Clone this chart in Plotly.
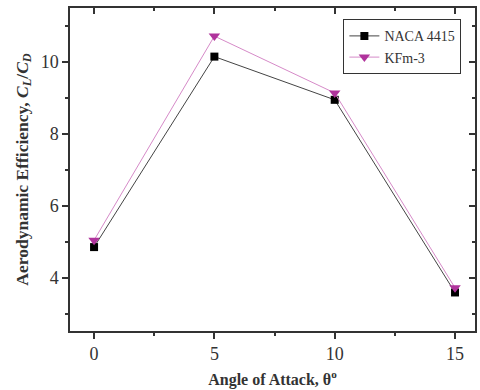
import plotly.graph_objects as go

angles = [0, 5, 10, 15]
naca_4415 = [4.86, 10.15, 8.95, 3.60]
kfm_3 = [5.05, 10.72, 9.14, 3.73]
x_ticks = [0, 5, 10, 15]
y_ticks = [4, 6, 8, 10]

FONT = "Liberation Serif"

fig = go.Figure()
fig.add_trace(go.Scatter(
    x=angles, y=naca_4415, name="NACA 4415", mode="lines+markers",
    line=dict(color="#444444", width=1),
    marker=dict(symbol="square", size=8, color="#000000"),
))
fig.add_trace(go.Scatter(
    x=angles, y=kfm_3, name="KFm-3", mode="lines+markers",
    line=dict(color="#d68ac8", width=1),
    marker=dict(symbol="triangle-down", size=10, color="#b0339c"),
))
# invisible trace for mirrored inside-tick axes
fig.add_trace(go.Scatter(x=[angles[0]], y=[naca_4415[0]], xaxis="x2", yaxis="y2",
                         mode="markers", marker=dict(opacity=0), showlegend=False,
                         hoverinfo="skip"))

xr = [-1.0, 15.83]
yr = [2.53, 11.5]
common = dict(showgrid=False, zeroline=False, linecolor="#333333", linewidth=1.5,
              tickcolor="#333333", tickwidth=1.5,
              tickfont=dict(family=FONT, size=18, color="#333333"))

fig.update_layout(
    width=480, height=390,
    margin=dict(l=70, r=5, t=8, b=59),
    paper_bgcolor="white", plot_bgcolor="white",
    font=dict(family=FONT, color="#333333"),
    xaxis=dict(range=xr, tickvals=x_ticks, ticks="outside", ticklen=6,
               minor=dict(dtick=2.5, ticks="outside", ticklen=3, tickcolor="#333333", tickwidth=1.5),
               title=dict(text="<b>Angle of Attack, θ<sup>o</sup></b>",
                          font=dict(family=FONT, size=16, color="#333333"), standoff=10),
               **common),
    yaxis=dict(range=yr, tickvals=y_ticks, ticks="outside", ticklen=6,
               minor=dict(dtick=1, ticks="outside", ticklen=3, tickcolor="#333333", tickwidth=1.5),
               title=dict(text="<b>Aerodynamic Efficiency, <i>C<sub>L</sub></i>/<i>C<sub>D</sub></i></b>",
                          font=dict(family=FONT, size=17.5, color="#333333"), standoff=8),
               **common),
    xaxis2=dict(range=xr, overlaying="x", side="top", tickvals=x_ticks, ticks="inside",
                ticklen=6, showticklabels=False, anchor="y",
                minor=dict(dtick=2.5, ticks="inside", ticklen=3, tickcolor="#333333", tickwidth=1.5),
                **common),
    yaxis2=dict(range=yr, overlaying="y", side="right", tickvals=y_ticks, ticks="inside",
                ticklen=6, showticklabels=False, anchor="x",
                minor=dict(dtick=1, ticks="inside", ticklen=3, tickcolor="#333333", tickwidth=1.5),
                **common),
    legend=dict(x=0.675, y=0.965, xanchor="left", yanchor="top",
                bordercolor="#333333", borderwidth=1, bgcolor="white",
                font=dict(family=FONT, size=14, color="#333333"),
                tracegroupgap=0, itemwidth=30),
    showlegend=True,
)

fig.write_html("out.html")
